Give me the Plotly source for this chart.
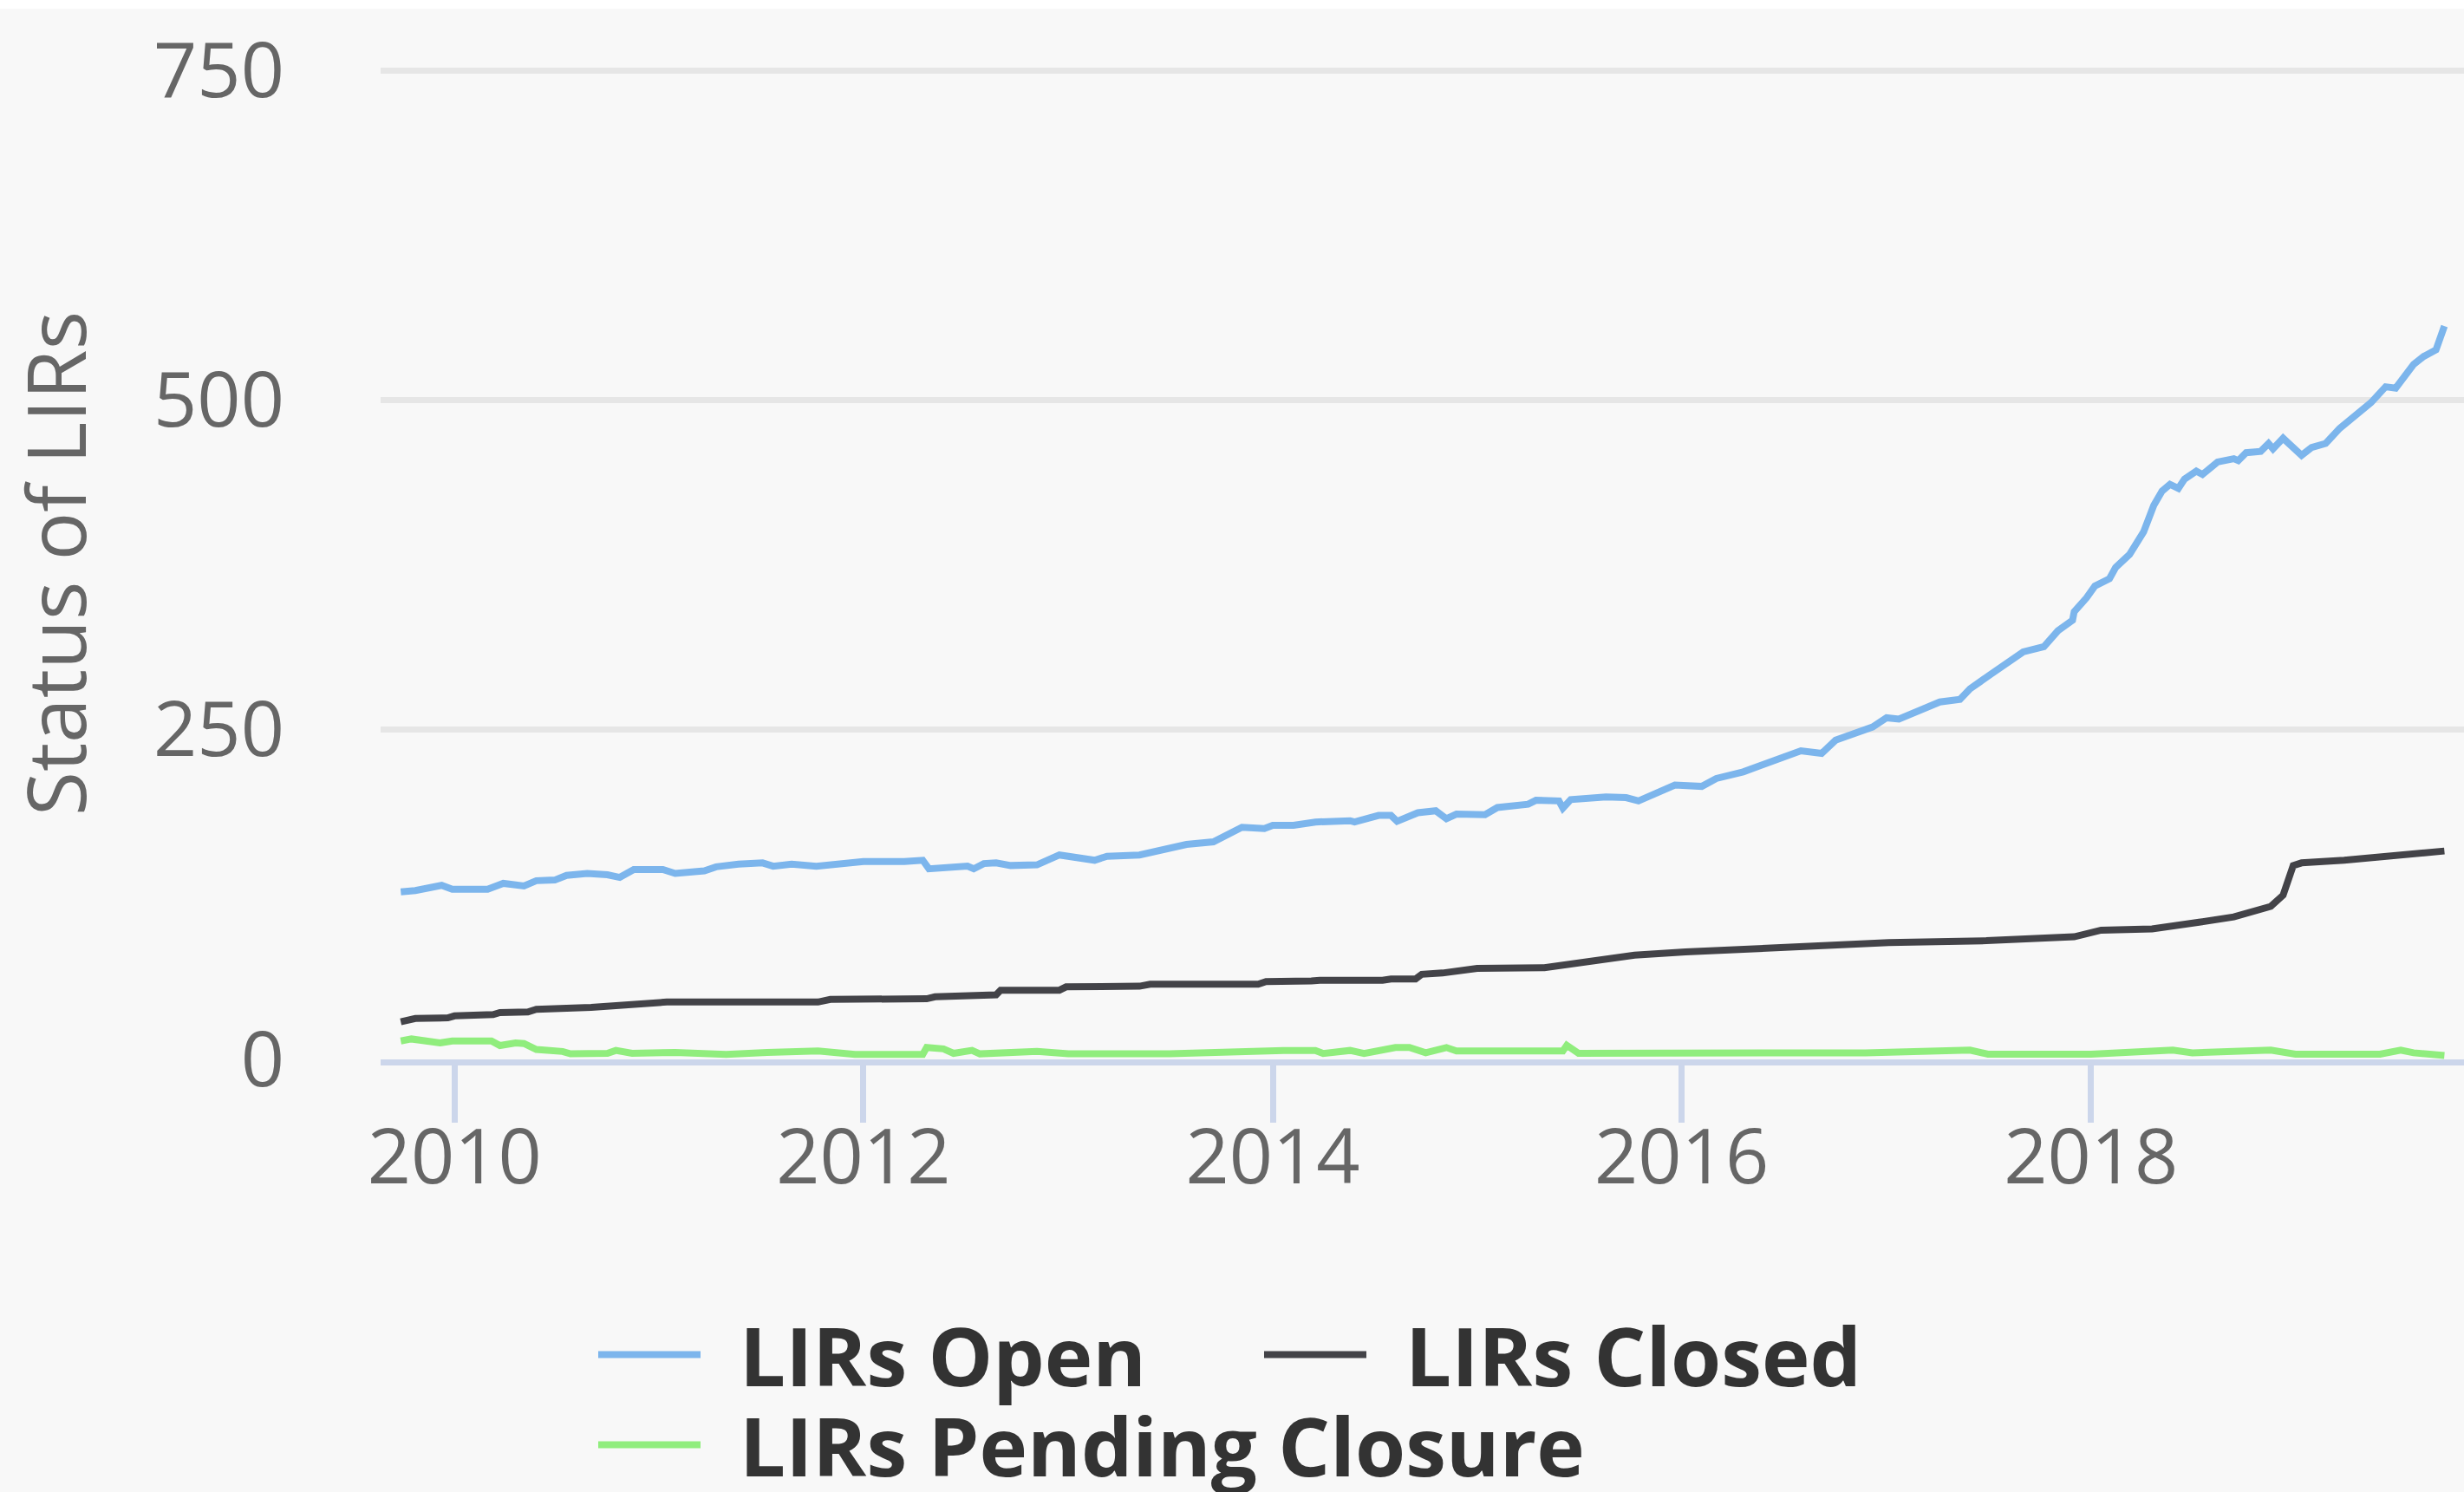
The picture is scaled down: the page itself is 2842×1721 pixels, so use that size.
import plotly.graph_objects as go

# ---------------- data ----------------
open_dates = [
    "2009-09-27", "2009-10-23", "2009-12-09", "2009-12-28", "2010-03-01", "2010-03-29",
    "2010-05-05", "2010-05-27", "2010-06-29", "2010-07-20", "2010-08-26", "2010-10-01",
    "2010-10-23", "2010-11-17", "2011-01-08", "2011-01-30", "2011-03-23", "2011-04-13",
    "2011-05-23", "2011-07-05", "2011-07-24", "2011-08-26", "2011-10-09", "2011-11-25",
    "2012-01-01", "2012-03-14", "2012-04-16", "2012-04-27", "2012-05-30", "2012-07-05",
    "2012-07-16", "2012-08-03", "2012-08-25", "2012-09-20", "2012-11-06", "2012-12-16",
    "2013-02-17", "2013-03-11", "2013-05-08", "2013-06-25", "2013-07-31", "2013-09-17",
    "2013-10-16", "2013-11-07", "2013-12-17", "2014-01-01", "2014-02-07", "2014-03-18",
    "2014-05-19", "2014-05-27", "2014-07-09", "2014-07-31", "2014-08-11", "2014-09-17",
    "2014-10-19", "2014-11-07", "2014-11-25", "2015-01-15", "2015-02-06", "2015-04-02",
    "2015-04-16", "2015-05-27", "2015-06-03", "2015-06-17", "2015-08-19", "2015-09-24",
    "2015-10-16", "2015-11-18", "2015-12-20", "2016-02-06", "2016-03-03", "2016-04-20",
    "2016-06-07", "2016-08-01", "2016-09-07", "2016-10-02", "2016-12-07", "2017-01-01",
    "2017-01-23", "2017-02-28", "2017-04-06", "2017-05-12", "2017-05-30", "2017-07-06",
    "2017-08-04", "2017-09-02", "2017-10-09", "2017-11-03", "2017-11-29", "2017-12-02",
    "2017-12-24", "2018-01-08", "2018-02-03", "2018-02-14", "2018-03-11", "2018-04-05",
    "2018-04-23", "2018-05-08", "2018-05-22", "2018-06-06", "2018-06-17", "2018-07-08",
    "2018-07-19", "2018-08-15", "2018-09-13", "2018-09-21", "2018-10-05", "2018-10-31",
    "2018-11-14", "2018-11-22", "2018-12-10", "2019-01-12", "2019-01-30", "2019-02-24",
    "2019-03-21", "2019-04-27", "2019-05-16", "2019-06-11", "2019-06-29", "2019-07-31",
    "2019-08-18", "2019-09-09", "2019-09-24",
]
open_values = [
    127, 128, 132, 129, 129, 133.5,
    131.5, 135.5, 136, 139.5, 141, 140,
    138, 144, 144, 141, 143, 146,
    148, 149, 146.5, 148, 146.5, 149,
    150, 150, 151, 144.5, 146, 146.5,
    144.5, 148.5, 149, 147, 147.5, 155,
    151, 154, 155, 159.5, 163, 165,
    170.5, 176, 175, 177.5, 177.5, 180,
    181, 180, 185, 185, 180.5, 187,
    188.5, 182.5, 186, 185.5, 191, 193.5,
    196.5, 196, 190.5, 197, 199, 198.5,
    196, 201.5, 208, 207, 213, 218,
    225, 234, 232, 242, 252, 259,
    258, 264, 271, 273, 281, 292,
    301, 309, 313, 325, 333, 339.5,
    350, 359, 364.5, 373, 383, 400,
    420, 431, 436, 433, 440, 446,
    443.5, 453, 455.5, 454, 460, 461,
    467, 463, 471, 458, 464, 467,
    478.5, 490.5, 498, 510, 509, 527,
    533, 538, 556,
]

closed_dates = [
    "2009-09-27", "2009-10-23", "2009-12-20", "2010-01-01", "2010-03-11", "2010-03-23",
    "2010-05-12", "2010-05-27", "2010-09-02", "2010-10-23", "2011-01-15", "2011-10-12",
    "2011-11-03", "2012-04-23", "2012-05-08", "2012-08-25", "2012-09-02", "2012-12-16",
    "2012-12-28", "2013-05-08", "2013-05-27", "2013-12-06", "2013-12-20", "2014-03-11",
    "2014-03-26", "2014-07-16", "2014-07-31", "2014-09-13", "2014-09-24", "2014-10-31",
    "2015-01-01", "2015-05-01", "2015-06-17", "2015-07-24", "2015-09-02", "2015-10-09",
    "2016-01-08", "2016-05-08", "2016-11-10", "2017-01-05", "2017-06-28", "2017-12-02",
    "2018-01-19", "2018-04-20", "2018-07-13", "2018-09-13", "2018-11-18", "2018-12-10",
    "2018-12-28", "2019-01-12", "2019-03-29", "2019-06-18", "2019-09-24",
]
closed_values = [
    28.5, 31, 31.5, 33, 34, 35.5,
    36, 38, 39.5, 41.5, 43.5, 43.5,
    45.5, 46, 47.5, 49, 52.5, 52.5,
    55, 55.5, 57, 57, 59, 59.5,
    60, 60, 61, 61, 64.5, 65.5,
    69, 69.5, 72, 74.5, 76.5, 79,
    81.5, 84, 87, 88.5, 90, 93,
    98, 99, 104, 108, 116, 124.5,
    147, 149, 151, 154, 158,
]

pending_dates = [
    "2009-09-27", "2009-10-16", "2009-12-06", "2009-12-28", "2010-03-08", "2010-03-23",
    "2010-04-20", "2010-05-05", "2010-05-27", "2010-07-13", "2010-07-27", "2010-10-01",
    "2010-10-16", "2010-11-14", "2011-01-30", "2011-05-01", "2011-07-13", "2011-10-12",
    "2011-12-17", "2012-04-16", "2012-04-23", "2012-05-23", "2012-06-10", "2012-07-13",
    "2012-07-27", "2012-10-12", "2012-11-06", "2013-01-01", "2013-07-01", "2014-01-20",
    "2014-03-18", "2014-04-01", "2014-05-19", "2014-06-13", "2014-08-08", "2014-09-02",
    "2014-10-01", "2014-11-07", "2014-11-25", "2015-06-03", "2015-06-10", "2015-07-01",
    "2016-04-20", "2016-07-01", "2016-11-24", "2017-03-15", "2017-05-30", "2017-07-01",
    "2018-01-01", "2018-05-27", "2018-07-01", "2018-11-18", "2019-01-01", "2019-06-01",
    "2019-07-08", "2019-07-31", "2019-09-24",
]
pending_values = [
    14, 15.5, 12.5, 14, 14, 10.5,
    12.5, 12, 7.5, 6, 4.2, 4.6,
    6.8, 4.6, 5.3, 3.8, 5.3, 6.4,
    3.8, 3.8, 9, 8, 4.6, 6.8,
    4.2, 4.6, 6, 4.2, 4.2, 6.8,
    6.8, 4.5, 6.8, 4.5, 9, 9,
    5, 9, 6.4, 6.4, 10.7, 4.6,
    4, 5, 5, 6.8, 7, 4,
    4, 7, 5, 7, 4, 4,
    7, 5, 3,
]

series_names = ["LIRs Open", "LIRs Closed", "LIRs Pending Closure"]
series_colors = ["#7cb5ec", "#434348", "#90ed7d"]
y_ticks = [0, 250, 500, 750]
y_range = [0, 752]
x_range = ["2009-08-22", "2019-10-29"]
y_title = "Status of LIRs"

# ---------------- figure ----------------
W, H = 2842, 1721
ML, MR, MT, MB = 439, 0, 78, 499
PH = H - MT - MB
GAP = "\u00a0\u2006"

fig = go.Figure()
series = [(open_dates, open_values), (closed_dates, closed_values), (pending_dates, pending_values)]
legend_ids = ["legend", "legend2", "legend3"]
for (d, v), name, col, lg in zip(series, series_names, series_colors, legend_ids):
    fig.add_trace(go.Scatter(
        x=d, y=v, name=GAP + name, mode="lines",
        line=dict(color=col, width=8), legend=lg,
        hoverinfo="x+y+name",
    ))

legend_common = dict(
    orientation="h", xref="container", yref="container",
    xanchor="left", yanchor="middle",
    font=dict(family="Open Sans", size=94, color="#333333", weight="bold"),
    bgcolor="rgba(0,0,0,0)", itemwidth=118, borderwidth=0,
    itemclick=False, itemdoubleclick=False,
)

fig.update_layout(
    width=W, height=H,
    margin=dict(l=ML, r=MR, t=MT, b=MB, autoexpand=False),
    paper_bgcolor="#f8f8f8", plot_bgcolor="#f8f8f8",
    font=dict(family="Open Sans", color="#666666"),
    showlegend=True,
    legend=dict(legend_common, x=685 / W, y=1 - 1563 / H),
    legend2=dict(legend_common, x=1453 / W, y=1 - 1563 / H),
    legend3=dict(legend_common, x=685 / W, y=1 - 1667 / H),
    xaxis=dict(
        type="date", range=x_range,
        tick0="2010-01-01", dtick="M24", tickformat="%Y",
        showgrid=False, zeroline=False,
        showline=True, linecolor="#ccd6eb", linewidth=7,
        ticks="outside", ticklen=66, tickwidth=7, tickcolor="#ccd6eb",
        tickfont=dict(family="Open Sans", size=88, color="#666666"),
        ticklabelstandoff=-36,
        fixedrange=True,
    ),
    yaxis=dict(
        range=y_range, tickvals=y_ticks,
        showgrid=True, gridcolor="#e6e6e6", gridwidth=6.5,
        zeroline=False, showline=False, ticks="",
        tickfont=dict(family="Open Sans", size=88, color="#666666"),
        ticklabelstandoff=110,
        title=dict(text=y_title, font=dict(family="Open Sans", size=93, color="#666666"), standoff=53),
        fixedrange=True,
    ),
    shapes=[dict(type="rect", xref="paper", yref="paper", x0=-0.2, x1=1.01,
                 y0=1 + (MT - 10) / PH, y1=1 + (MT + 5) / PH,
                 fillcolor="#ffffff", line=dict(width=0), layer="above")],
)

fig.write_html(
    "out.html",
    config={"displayModeBar": False},
    post_script="document.body.style.margin='0';document.body.style.overflow='hidden';",
)
